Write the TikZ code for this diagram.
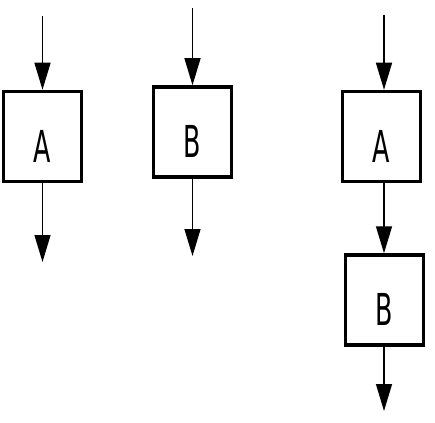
\documentclass[tikz,border=0pt]{standalone}
\usepackage{fontspec}
\setmainfont{DejaVu Sans Condensed}
\usetikzlibrary{arrows.meta}
\begin{document}
\begin{tikzpicture}[x=1pt,y=-1pt,
  blk/.style={draw,line width=3.5pt,minimum width=78pt,minimum height=90pt,inner sep=0pt,
    font=\fontsize{44}{44}\selectfont},
  flow/.style={line width=1.3pt,-{Triangle[length=27pt,width=16pt]}}]
\useasboundingbox (0,0) rectangle (435,422);
\newcommand\lbl[1]{\raisebox{-25.5pt}[0pt][0pt]{\scalebox{0.64}[1]{#1}}}
\node[blk] (a1) at (42.5,136.5) {\lbl{A}};
\node[blk] (b1) at (192.5,132) {\lbl{B}};
\node[blk] (a2) at (381.5,136.5) {\lbl{A}};
\node[blk] (b2) at (384.5,300) {\lbl{B}};
\coordinate (a1i) at (42.5,16);
\coordinate (a1o) at (42.5,262);
\coordinate (b1i) at (192.5,8);
\coordinate (b1o) at (192.5,256);
\coordinate (a2i) at (384,15);
\coordinate (b2o) at (384,411);
\draw[flow] (a1i) -- (a1i |- a1.north);
\draw[flow] (a1.south) -- (a1o);
\draw[flow] (b1i) -- (b1i |- b1.north);
\draw[flow] (b1.south) -- (b1o);
\draw[flow] (a2i) -- (a2i |- a2.north);
\draw[flow] (a2i |- a2.south) -- (a2i |- b2.north);
\draw[flow] (b2o |- b2.south) -- (b2o);
\end{tikzpicture}
\end{document}
